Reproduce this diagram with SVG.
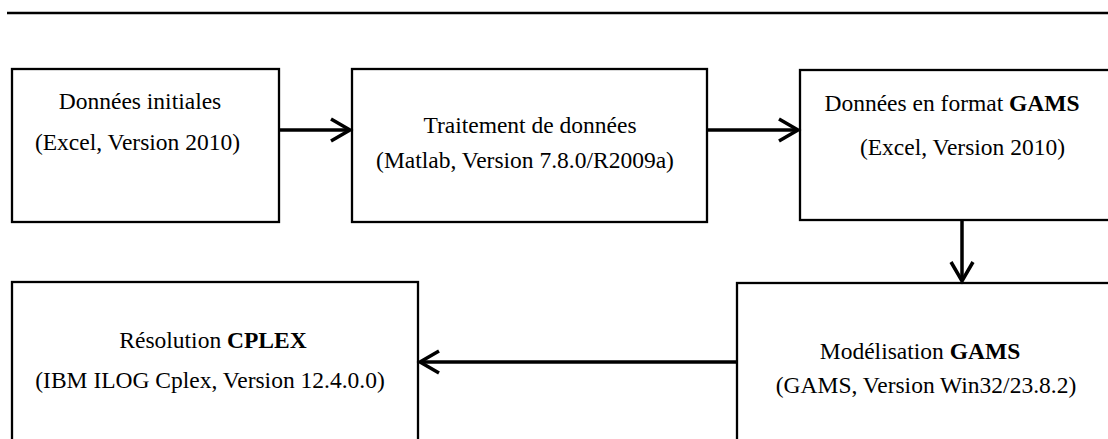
<svg xmlns="http://www.w3.org/2000/svg" width="1108" height="439" viewBox="0 0 1108 439">
<style>
  .box { fill: #ffffff; stroke: #000000; stroke-width: 2.3; }
  .conn { fill: none; stroke: #000000; stroke-width: 3.5; }
  .t { font-family: "Liberation Serif", "Times New Roman", serif; font-size: 23.5px; fill: #000000; text-anchor: middle; }
  .b { font-weight: bold; }
</style>
<defs>
  <marker id="arrow" viewBox="-24 -14 28 28" markerWidth="28" markerHeight="28" refX="0" refY="0" orient="auto" markerUnits="userSpaceOnUse">
    <path d="M -19 -11 L 0 0 L -19 11" fill="none" stroke="#000000" stroke-width="3.5" stroke-linejoin="miter"/>
  </marker>
</defs>
<rect x="0" y="0" width="1108" height="439" fill="#ffffff"/>
<line x1="7" y1="13" x2="1108" y2="13" stroke="#000000" stroke-width="2.6"/>

<g id="node-donnees-initiales">
  <rect class="box" x="12" y="69" width="267" height="153"/>
  <text class="t" x="140" y="109">Données initiales</text>
  <text class="t" x="137.5" y="150">(Excel, Version 2010)</text>
</g>
<g id="node-traitement">
  <rect class="box" x="352" y="69" width="355" height="153"/>
  <text class="t" x="530" y="133">Traitement de données</text>
  <text class="t" x="525" y="168">(Matlab, Version 7.8.0/R2009a)</text>
</g>
<g id="node-format-gams">
  <rect class="box" x="800" y="70" width="330" height="150"/>
  <text class="t" x="952" y="111">Données en format <tspan class="b">GAMS</tspan></text>
  <text class="t" x="962.5" y="155">(Excel, Version 2010)</text>
</g>
<g id="node-modelisation">
  <rect class="box" x="737" y="283" width="400" height="200"/>
  <text class="t" x="920" y="359">Modélisation <tspan class="b">GAMS</tspan></text>
  <text class="t" x="926" y="393">(GAMS, Version Win32/23.8.2)</text>
</g>
<g id="node-resolution">
  <rect class="box" x="12" y="282" width="406" height="200"/>
  <text class="t" x="213" y="348">Résolution <tspan class="b">CPLEX</tspan></text>
  <text class="t" x="210" y="388">(IBM ILOG Cplex, Version 12.4.0.0)</text>
</g>

<g id="connectors">
  <line class="conn" x1="279" y1="130" x2="350" y2="130" marker-end="url(#arrow)"/>
  <line class="conn" x1="707" y1="130" x2="798" y2="130" marker-end="url(#arrow)"/>
  <line class="conn" x1="962" y1="220" x2="962" y2="281" marker-end="url(#arrow)"/>
  <line class="conn" x1="737" y1="362" x2="420" y2="362" marker-end="url(#arrow)"/>
</g>
</svg>
